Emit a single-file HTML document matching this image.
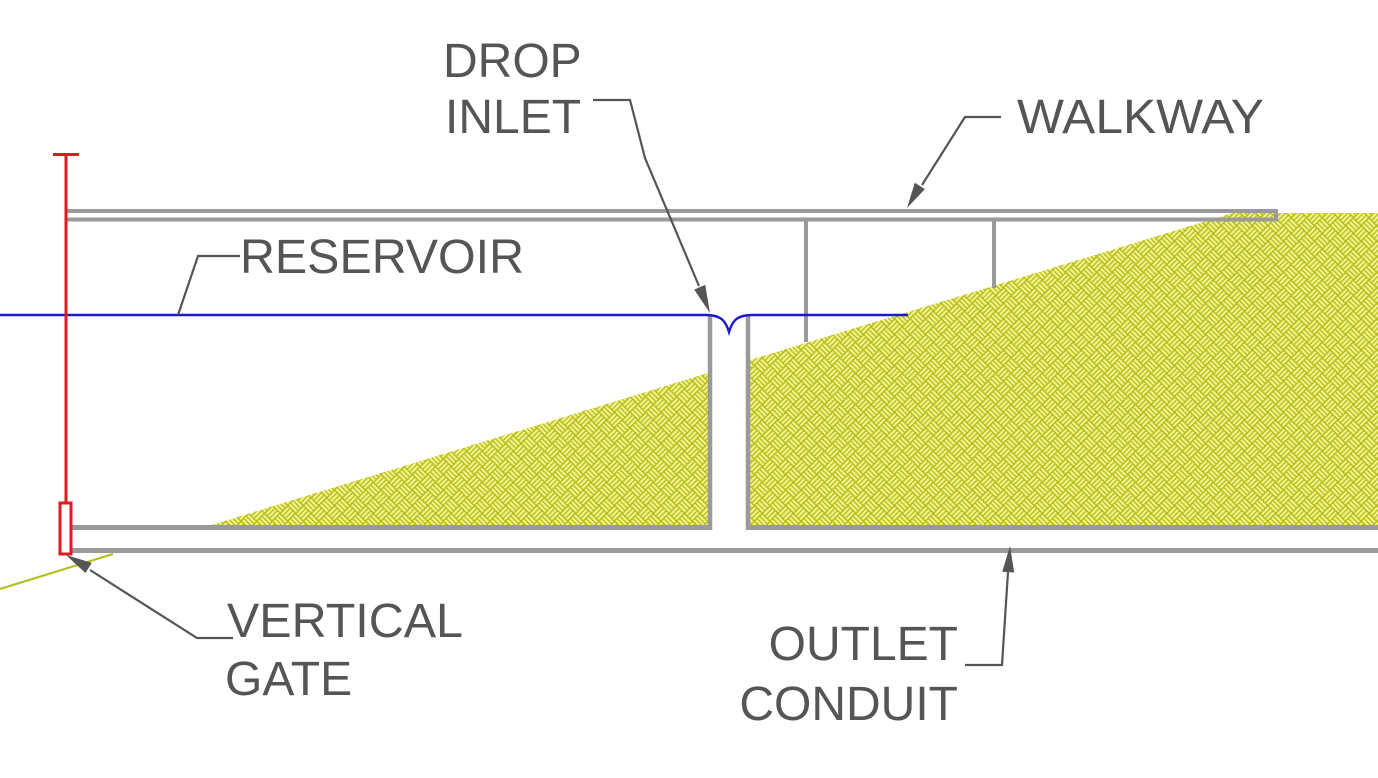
<!DOCTYPE html>
<html>
<head>
<meta charset="utf-8">
<style>
  html,body{margin:0;padding:0;background:#fff;}
  svg{display:block;}
  text{font-family:"Liberation Sans",Arial,sans-serif;font-size:48px;fill:#555;}
</style>
</head>
<body>
<svg width="1378" height="778" viewBox="0 0 1378 778" xmlns="http://www.w3.org/2000/svg">
  <defs>
    <pattern id="weave" patternUnits="userSpaceOnUse" width="22" height="22" patternTransform="rotate(45)">
      <rect x="0" y="0" width="22" height="22" fill="#b4bc1a"/>
      <g fill="#f3f28c">
        <!-- TL horizontal -->
        <rect x="0.5" y="0.9" width="10" height="2.2"/>
        <rect x="0.5" y="4.4" width="10" height="2.2"/>
        <rect x="0.5" y="7.9" width="10" height="2.2"/>
        <!-- TR vertical -->
        <rect x="11.9" y="0.5" width="2.2" height="10"/>
        <rect x="15.4" y="0.5" width="2.2" height="10"/>
        <rect x="18.9" y="0.5" width="2.2" height="10"/>
        <!-- BL vertical -->
        <rect x="0.9" y="11.5" width="2.2" height="10"/>
        <rect x="4.4" y="11.5" width="2.2" height="10"/>
        <rect x="7.9" y="11.5" width="2.2" height="10"/>
        <!-- BR horizontal -->
        <rect x="11.5" y="11.9" width="10" height="2.2"/>
        <rect x="11.5" y="15.4" width="10" height="2.2"/>
        <rect x="11.5" y="18.9" width="10" height="2.2"/>
      </g>
    </pattern>
  </defs>

  <!-- ground extension line -->
  <line x1="0" y1="589" x2="113" y2="554" stroke="#b6bd1c" stroke-width="2.2"/>

  <!-- hatched ground -->
  <polygon points="205,527 708,373 708,527" fill="url(#weave)"/>
  <polygon points="750,360 1233,213 1378,213 1378,527 750,527" fill="url(#weave)"/>

  <!-- walkway -->
  <g stroke="#9a9a9a" stroke-width="4" fill="none">
    <line x1="67" y1="211" x2="1277" y2="211"/>
    <line x1="67" y1="219.5" x2="1277" y2="219.5"/>
    <line x1="1276" y1="209" x2="1276" y2="221.5"/>
    <line x1="806" y1="219" x2="806" y2="342"/>
    <line x1="994" y1="219" x2="994" y2="288"/>
  </g>

  <!-- drop inlet walls and conduit -->
  <g stroke="#9a9a9a" fill="none">
    <line x1="710" y1="315" x2="710" y2="530" stroke-width="4.5"/>
    <line x1="748" y1="315" x2="748" y2="530" stroke-width="4.5"/>
    <line x1="72" y1="527.5" x2="712" y2="527.5" stroke-width="5"/>
    <line x1="746" y1="527.5" x2="1378" y2="527.5" stroke-width="5"/>
    <line x1="72" y1="550.5" x2="1378" y2="550.5" stroke-width="5"/>
  </g>

  <!-- reservoir water line -->
  <path d="M0,315 L706,315 C722,315 726,322 729,332 C732,322 736,315 752,315 L908,315" stroke="#1a1acc" stroke-width="2.4" fill="none"/>

  <!-- vertical gate -->
  <g stroke="#e01a1e" stroke-width="3" fill="none">
    <line x1="53" y1="154.5" x2="79" y2="154.5"/>
    <line x1="66" y1="154" x2="66" y2="503"/>
    <rect x="60" y="503" width="11" height="51" fill="#fff"/>
  </g>

  <!-- leaders -->
  <g stroke="#555" stroke-width="2.2" fill="none">
    <polyline points="178,315 198,256 240,256"/>
    <polyline points="593,100 630,100 645,158 699,286"/>
    <polyline points="1001,117 965,117 922,185"/>
    <polyline points="233,638 197,638 90,570"/>
    <polyline points="965,665 1002,665 1008,572"/>
  </g>
  <g fill="#555">
    <polygon points="710,313 694.2,289.6 705.2,284.8"/>
    <polygon points="907,208 914.8,182.7 924.9,189.1"/>
    <polygon points="66,555 91.8,562.9 85.4,573.0"/>
    <polygon points="1010,546 1014.2,572.5 1002.2,571.7"/>
  </g>

  <!-- labels -->
  <text x="443" y="77">DROP</text>
  <text x="445" y="133">INLET</text>
  <text x="1017" y="133" textLength="247" lengthAdjust="spacingAndGlyphs">WALKWAY</text>
  <text x="240" y="273" textLength="284" lengthAdjust="spacingAndGlyphs">RESERVOIR</text>
  <text x="227" y="637" textLength="236" lengthAdjust="spacingAndGlyphs">VERTICAL</text>
  <text x="225" y="695">GATE</text>
  <text x="958" y="660" text-anchor="end">OUTLET</text>
  <text x="958" y="720" text-anchor="end">CONDUIT</text>
</svg>
</body>
</html>
